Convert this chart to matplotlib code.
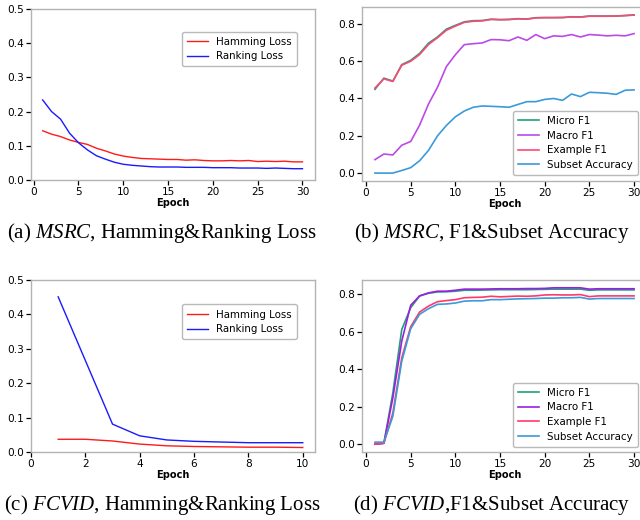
import matplotlib
matplotlib.use("Agg")
import matplotlib.pyplot as plt

plt.rcParams['font.family'] = ['DejaVu Sans']
plt.rcParams['mathtext.fontset'] = 'custom'
plt.rcParams['mathtext.rm'] = 'Liberation Serif'
plt.rcParams['mathtext.it'] = 'Liberation Serif:italic'

# ---------------- data ----------------
epochs_msrc = list(range(1, 31))
msrc_hamming = [0.144, 0.134, 0.127, 0.117, 0.110, 0.104, 0.093, 0.085, 0.076, 0.070,
                0.066, 0.063, 0.062, 0.061, 0.060, 0.060, 0.058, 0.059, 0.057, 0.056,
                0.056, 0.057, 0.056, 0.057, 0.054, 0.055, 0.054, 0.055, 0.053, 0.053]
msrc_ranking = [0.234, 0.200, 0.178, 0.137, 0.109, 0.088, 0.071, 0.061, 0.052, 0.046,
                0.043, 0.041, 0.039, 0.038, 0.038, 0.038, 0.037, 0.037, 0.037, 0.036,
                0.036, 0.036, 0.035, 0.035, 0.035, 0.034, 0.035, 0.034, 0.033, 0.033]

msrc_micro = [0.448, 0.508, 0.492, 0.580, 0.603, 0.640, 0.695, 0.728, 0.770, 0.790,
              0.809, 0.815, 0.816, 0.823, 0.821, 0.822, 0.826, 0.824, 0.831, 0.832,
              0.832, 0.832, 0.836, 0.835, 0.840, 0.840, 0.840, 0.840, 0.843, 0.846]
msrc_macro = [0.072, 0.102, 0.097, 0.149, 0.169, 0.257, 0.370, 0.459, 0.570, 0.633,
              0.687, 0.692, 0.696, 0.714, 0.713, 0.708, 0.728, 0.710, 0.741, 0.719,
              0.734, 0.731, 0.741, 0.728, 0.741, 0.738, 0.734, 0.737, 0.734, 0.746]
msrc_example = [0.455, 0.504, 0.490, 0.577, 0.598, 0.634, 0.688, 0.724, 0.764, 0.786,
                0.806, 0.812, 0.814, 0.822, 0.820, 0.821, 0.825, 0.823, 0.830, 0.831,
                0.831, 0.832, 0.835, 0.834, 0.839, 0.839, 0.839, 0.840, 0.842, 0.845]
msrc_subset = [0.000, 0.000, 0.000, 0.014, 0.029, 0.066, 0.122, 0.199, 0.255, 0.301,
               0.332, 0.352, 0.359, 0.357, 0.355, 0.352, 0.367, 0.382, 0.382, 0.394,
               0.399, 0.389, 0.423, 0.409, 0.432, 0.430, 0.427, 0.421, 0.443, 0.445]

epochs_fcvid_loss = list(range(1, 11))
fcvid_hamming = [0.037, 0.037, 0.032, 0.023, 0.018, 0.016, 0.015, 0.014, 0.014, 0.013]
fcvid_ranking = [0.451, 0.266, 0.081, 0.047, 0.035, 0.031, 0.029, 0.027, 0.027, 0.027]

epochs_fcvid = list(range(1, 31))
fcvid_micro = [0.000, 0.005, 0.273, 0.611, 0.727, 0.790, 0.804, 0.811, 0.812, 0.815,
               0.820, 0.820, 0.821, 0.822, 0.823, 0.823, 0.823, 0.823, 0.824, 0.825,
               0.826, 0.826, 0.826, 0.826, 0.820, 0.822, 0.822, 0.822, 0.822, 0.822]
fcvid_macro = [0.000, 0.005, 0.246, 0.549, 0.740, 0.790, 0.806, 0.815, 0.815, 0.820,
               0.826, 0.826, 0.826, 0.827, 0.828, 0.828, 0.828, 0.829, 0.829, 0.830,
               0.833, 0.833, 0.833, 0.833, 0.826, 0.828, 0.828, 0.828, 0.828, 0.828]
fcvid_example = [0.000, 0.005, 0.166, 0.460, 0.626, 0.704, 0.736, 0.759, 0.765, 0.770,
                 0.780, 0.782, 0.783, 0.788, 0.785, 0.787, 0.789, 0.788, 0.790, 0.795,
                 0.796, 0.795, 0.795, 0.797, 0.786, 0.790, 0.790, 0.790, 0.790, 0.790]
fcvid_subset = [0.011, 0.011, 0.148, 0.442, 0.615, 0.692, 0.722, 0.745, 0.747, 0.752,
                0.762, 0.764, 0.764, 0.770, 0.770, 0.772, 0.774, 0.775, 0.776, 0.778,
                0.778, 0.780, 0.780, 0.782, 0.773, 0.776, 0.776, 0.776, 0.776, 0.776]

loss_labels = ['Hamming Loss', 'Ranking Loss']
f1_labels = ['Micro F1', 'Macro F1', 'Example F1', 'Subset Accuracy']
captions = [r'(a) $\mathit{MSRC}$, Hamming&Ranking Loss',
            r'(b) $\mathit{MSRC}$, F1&Subset Accuracy',
            r'(c) $\mathit{FCVID}$, Hamming&Ranking Loss',
            r'(d) $\mathit{FCVID}$,F1&Subset Accuracy']

# ---------------- figure ----------------
W, H = 640, 520
fig = plt.figure(figsize=(W / 100, H / 100), dpi=100)


def ax_at(l, t, r, b):
    return fig.add_axes([l / W, 1 - b / H, (r - l) / W, (b - t) / H])


FS = 7.6
spine_col = '#b3b3b3'


def style(ax):
    for s in ax.spines.values():
        s.set_color(spine_col)
        s.set_linewidth(1.0)
    ax.tick_params(axis='both', labelsize=FS, length=3.5, width=0.9, color='black', pad=1.5)
    ax.set_xlabel('Epoch', fontsize=FS - 0.5, fontweight='bold', labelpad=0.5)


def add_legend(ax, loc, anchor):
    leg = ax.legend(fontsize=FS - 0.2, loc=loc, bbox_to_anchor=anchor, borderaxespad=0,
                    edgecolor='#a8a8a8', fancybox=True, borderpad=0.5, labelspacing=0.45)
    return leg


c_red, c_blue = '#ff1a1a', '#1a1aff'
c_micro, c_example, c_subset = '#1f9e7a', '#fb4a76', '#3b9ad9'

# (a)
ax = ax_at(31, 9, 315, 180)
ax.plot(epochs_msrc, msrc_hamming, color=c_red, lw=1.0, label=loss_labels[0])
ax.plot(epochs_msrc, msrc_ranking, color=c_blue, lw=1.0, label=loss_labels[1])
ax.set_ylim(0, 0.5)
ax.set_xlim(-0.3, 31.4)
ax.set_xticks([0, 5, 10, 15, 20, 25, 30])
style(ax)
add_legend(ax, 'upper right', (0.935, 0.868))

# (b)
ax = ax_at(362, 7, 647, 181)
ax.plot(epochs_msrc, msrc_micro, color=c_micro, lw=1.2, label=f1_labels[0])
ax.plot(epochs_msrc, msrc_macro, color='#bb4ae8', lw=1.2, label=f1_labels[1])
ax.plot(epochs_msrc, msrc_example, color=c_example, lw=1.2, label=f1_labels[2])
ax.plot(epochs_msrc, msrc_subset, color=c_subset, lw=1.2, label=f1_labels[3])
ax.set_xticks([0, 5, 10, 15, 20, 25, 30])
ax.set_yticks([0.0, 0.2, 0.4, 0.6, 0.8])
style(ax)
add_legend(ax, 'lower right', (0.968, 0.034))

# (c)
ax = ax_at(31, 280, 315, 452)
ax.plot(epochs_fcvid_loss, fcvid_hamming, color=c_red, lw=1.0, label=loss_labels[0])
ax.plot(epochs_fcvid_loss, fcvid_ranking, color=c_blue, lw=1.0, label=loss_labels[1])
ax.set_ylim(0, 0.5)
ax.set_xlim(0, 10.45)
ax.set_xticks([0, 2, 4, 6, 8, 10])
style(ax)
add_legend(ax, 'upper right', (0.935, 0.858))

# (d)
ax = ax_at(362, 280, 647, 452)
ax.plot(epochs_fcvid, fcvid_micro, color=c_micro, lw=1.2, label=f1_labels[0])
ax.plot(epochs_fcvid, fcvid_macro, color='#9a1fe0', lw=1.2, label=f1_labels[1])
ax.plot(epochs_fcvid, fcvid_example, color='#ff3a6a', lw=1.2, label=f1_labels[2])
ax.plot(epochs_fcvid, fcvid_subset, color=c_subset, lw=1.2, label=f1_labels[3])
ax.set_xticks([0, 5, 10, 15, 20, 25, 30])
ax.set_yticks([0.0, 0.2, 0.4, 0.6, 0.8])
style(ax)
add_legend(ax, 'lower right', (0.968, 0.03))

# captions
cap_fs = 15
for (cx, cy), cap in zip([(162, 233), (492, 233), (162, 505), (492, 505)], captions):
    fig.text(cx / W, 1 - cy / H, cap, ha='center', va='center', fontsize=cap_fs,
             family='Liberation Serif')

fig.savefig('out.png', dpi=100)
